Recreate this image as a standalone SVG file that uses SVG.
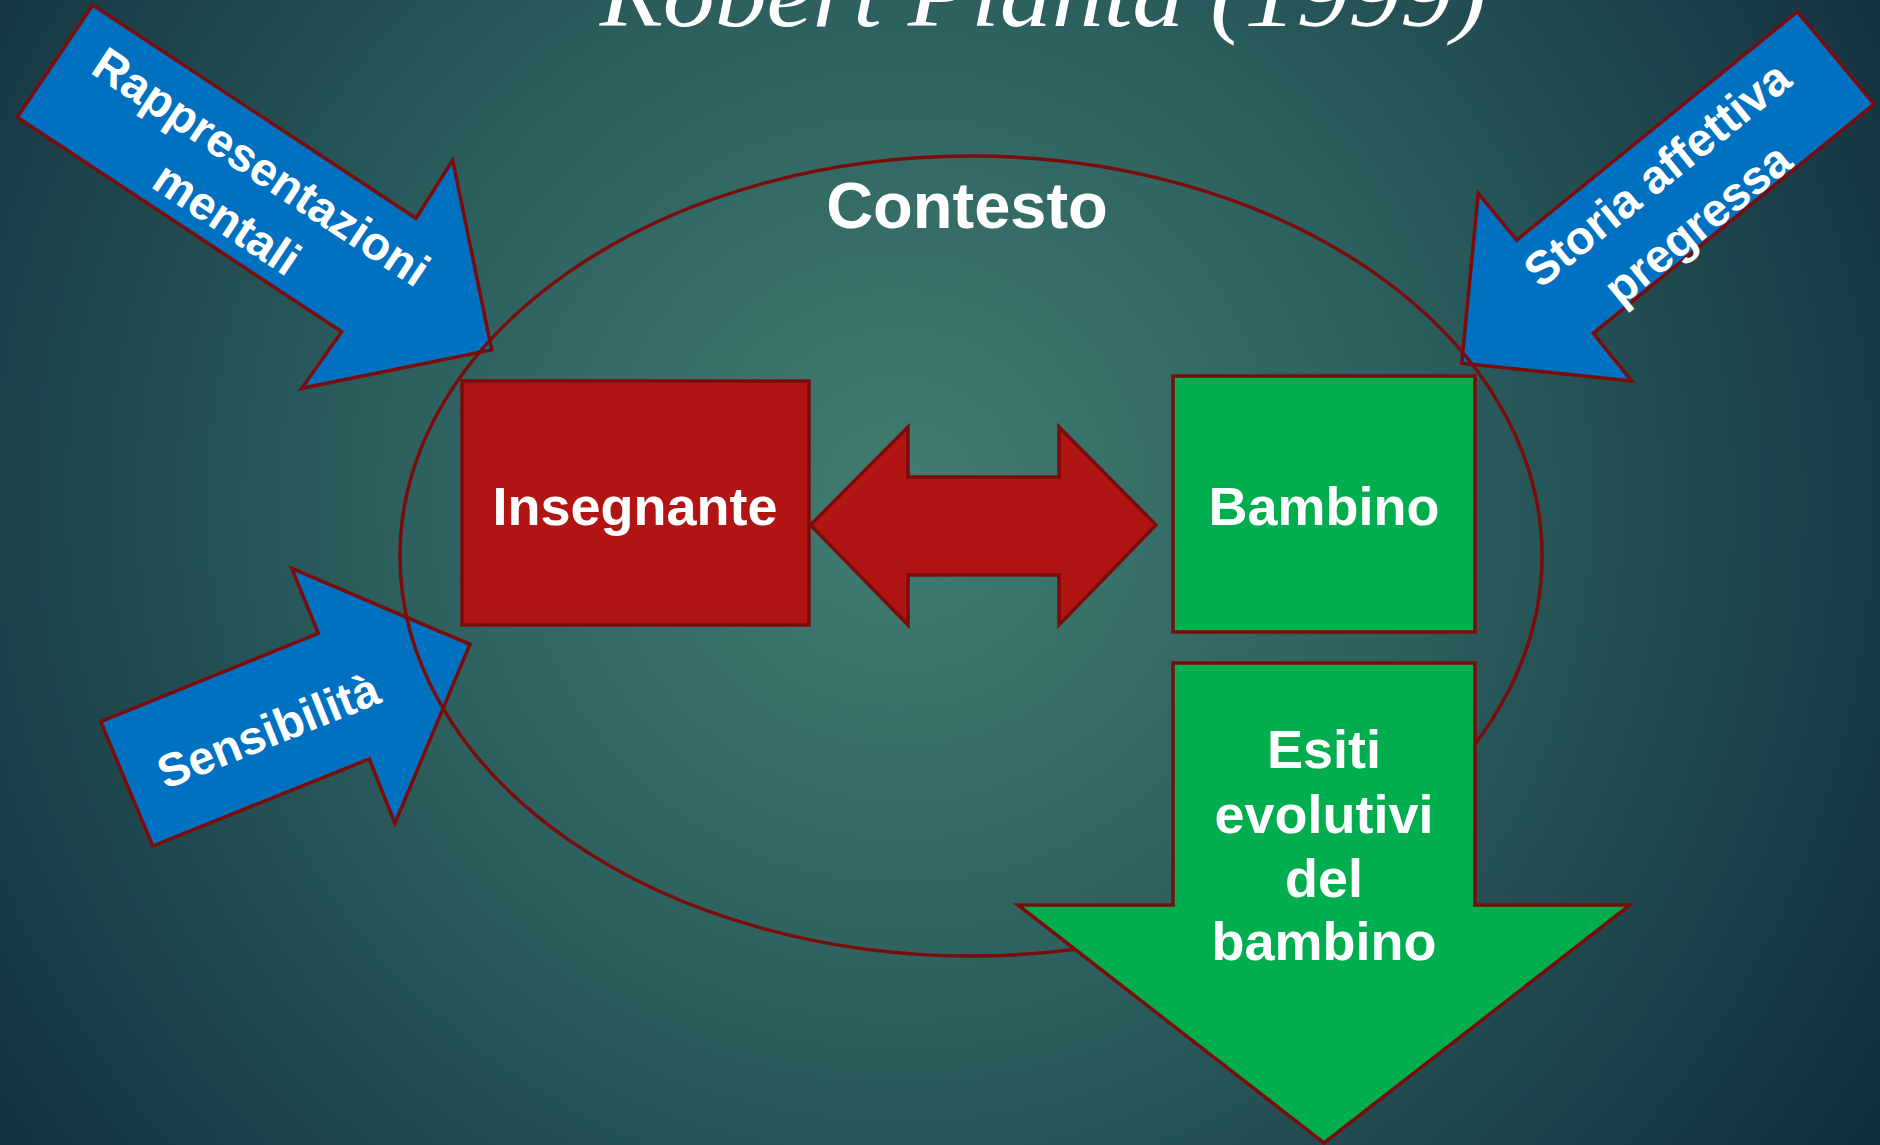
<svg xmlns="http://www.w3.org/2000/svg" width="1880" height="1145" viewBox="0 0 1880 1145">
<defs>
<radialGradient id="bg" gradientUnits="userSpaceOnUse" cx="900" cy="500" r="1150">
<stop offset="0" stop-color="#417e71"/>
<stop offset="0.45" stop-color="#2c5f5e"/>
<stop offset="1" stop-color="#112e3d"/>
</radialGradient>
<style>
.shape{stroke:#7b0c0c;stroke-width:3.5;stroke-linejoin:miter}
.blue{fill:#0070c0}
.red{fill:#b01513}
.green{fill:#00ad4f}
.lbl{font-family:"Liberation Sans",Arial,sans-serif;font-weight:bold;fill:#ffffff;text-anchor:middle}
.big{font-size:54px}
.arr{font-size:47px}
</style>
</defs>
<rect x="0" y="0" width="1880" height="1145" fill="url(#bg)"/>
<text x="1043" y="26" font-family="'Liberation Serif','Times New Roman',serif" font-style="italic" font-size="90" fill="#ffffff" text-anchor="middle" textLength="887" lengthAdjust="spacingAndGlyphs">Robert Pianta (1999)</text>

<g id="rappresentazioni">
<polygon class="shape blue" points="92.7,5 416,218.3 452.7,160 491.7,350 301.7,388.3 341.7,331.7 17.3,117.3"/>
<g transform="translate(244.5,192) rotate(33.5)">
<text class="lbl arr" x="0" y="-14">Rappresentazioni</text>
<text class="lbl arr" x="0" y="48">mentali</text>
</g>
</g>

<g id="storia">
<polygon class="shape blue" points="1797.3,11.7 1516.7,240 1478.3,193.3 1461.7,363.3 1631.7,381 1593.3,333.3 1874,104"/>
<g transform="translate(1676.7,198.3) rotate(-39.1)">
<text class="lbl arr" x="0" y="-15">Storia affettiva</text>
<text class="lbl arr" x="0" y="49">pregressa</text>
</g>
</g>

<g id="sensibilita">
<polygon class="shape blue" points="100.7,721.7 318.3,633.3 291.7,568.3 470,644.3 395,823.3 369.3,759 152.7,846"/>
<g transform="translate(268,730) rotate(-22)">
<text class="lbl arr" x="0" y="17">Sensibilità</text>
</g>
</g>

<g id="contesto">
<ellipse cx="971" cy="556" rx="571" ry="400" fill="none" stroke="#7b0c0c" stroke-width="3.5"/>
<text x="967" y="228" font-family="'Liberation Sans',Arial,sans-serif" font-weight="bold" font-size="65" fill="#ffffff" text-anchor="middle">Contesto</text>
</g>

<g id="insegnante">
<rect class="shape red" x="462" y="381" width="347" height="244"/>
<text class="lbl big" x="635" y="525">Insegnante</text>
</g>

<g id="bambino">
<rect class="shape green" x="1173" y="376" width="302" height="256"/>
<text class="lbl big" x="1324" y="525">Bambino</text>
</g>

<g id="connectors">
<polygon class="shape red" points="810.5,525 908,427 908,477 1059,477 1059,427 1156,525 1059,625 1059,575 908,575 908,625"/>
</g>

<g id="esiti">
<polygon class="shape green" points="1173,663 1475,663 1475,905 1630,905 1324,1143 1018,905 1173,905"/>
<text class="lbl big" x="1324" y="768">Esiti</text>
<text class="lbl big" x="1324" y="833">evolutivi</text>
<text class="lbl big" x="1324" y="897">del</text>
<text class="lbl big" x="1324" y="960">bambino</text>
</g>
</svg>
